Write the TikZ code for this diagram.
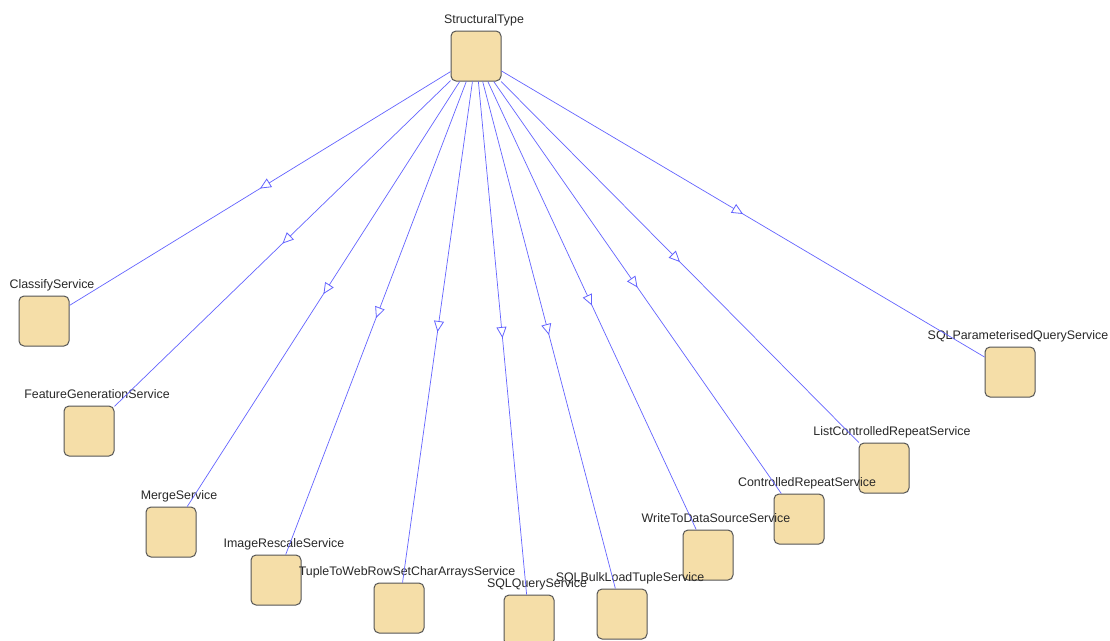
\documentclass[tikz,border=0pt]{standalone}
\usepackage{fontspec}
\setmainfont{Liberation Sans}
\usetikzlibrary{arrows.meta,decorations.markings}
\definecolor{boxfill}{RGB}{245,222,168}
\definecolor{boxline}{RGB}{85,85,85}
\definecolor{edgeblue}{RGB}{100,100,255}
\definecolor{txt}{RGB}{40,40,40}
\tikzset{
  cls/.style={draw=boxline, fill=boxfill, line width=1pt, rounded corners=5pt,
    minimum width=50pt, minimum height=50pt, inner sep=0pt},
  lbl/.style={text=txt, font=\fontsize{12.4}{14}\selectfont, inner sep=0pt, anchor=base},
  gen/.style={draw=edgeblue, line width=0.7pt, postaction={decorate},
    decoration={markings, mark=at position 0.5 with {\arrow[line width=0.8pt]{Triangle[fill=white, length=11pt, width=10pt]}}}}
}
\begin{document}
\begin{tikzpicture}[x=1pt, y=-1pt]
\useasboundingbox[fill=white] (0,0) rectangle (1110,640);
\foreach \n/\x/\y in {st/476/56, cs/44/321, fg/89/431, ms/171/532, ir/276/580, tw/399/608,
  sq/529/620, sb/622/614, wd/708/555, cr/799/519, lc/884/468, sp/1010/372}
  \node[cls] (\n) at (\x,\y) {};
\foreach \n/\t in {st/StructuralType, cs/ClassifyService, fg/FeatureGenerationService,
  ms/MergeService, ir/ImageRescaleService, tw/TupleToWebRowSetCharArraysService,
  sq/SQLQueryService, sb/SQLBulkLoadTupleService, wd/WriteToDataSourceService,
  cr/ControlledRepeatService, lc/ListControlledRepeatService, sp/SQLParameterisedQueryService}
  \node[lbl] (\n-l) at ([xshift=8pt, yshift=7pt]\n.north) {\t};
\foreach \c in {cs,fg,ms,ir,tw,sq,sb,wd,cr,lc,sp}
  \draw[gen] (st) -- (\c);
\end{tikzpicture}
\end{document}
